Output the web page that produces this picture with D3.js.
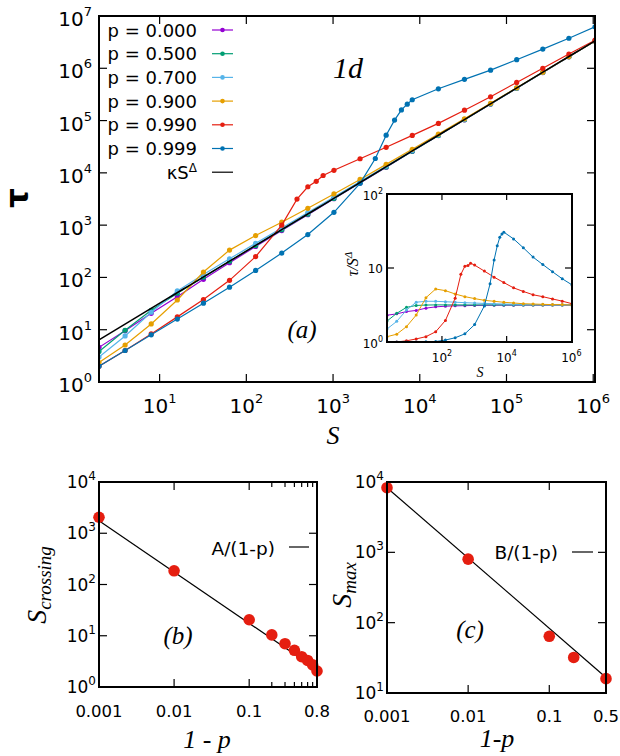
<!DOCTYPE html>
<html><head><meta charset="utf-8">
<script src="https://cdn.jsdelivr.net/npm/d3@7"></script>
<style>body{margin:0;background:#fff}svg{display:block}</style>
</head><body>
<svg id="chart" width="620" height="756"></svg>
<script>
// ---------------- DATA ----------------
const S_grid = [2,4,8,16,32,64,128,256,512,1024,2048,4096,8192,16384,32768,65536,131072,262144,524288,1048576];
const tau_p000 = [4.6,9.6,20.6,42.7,91.8,191,390,788,1587,3195,6410,12860,25800,51600,103500,207000,414000,828000,1657000,3314000];
const tau_p500 = [3.84,9.76,23.5,49.9,101,203,406,812,1623,3246,6492,12980,25970,51940,103900,207700,415500,831000,1662000,3324000];
const tau_p700 = [3.0,7.6,21.6,55.2,113.6,227,448,883,1741,3441,6799,13480,26710,53080,105500,210400,421000,836500,1673000,3337000];
const tau_p900 = [2.36,5.1,12.9,37,127,333,633,1140,2100,3950,7490,14540,28180,55200,107800,213600,423000,839000,1678000,3314000];
const S_p990 = [2,4,8,16,32,64,128,256,384,512,640,768,1024,2048,4096,8192,16384,32768,65536,131072,262144,524288,1048576];
const tau_p990 = [2.0,4.0,8.3,17.6,37.8,88,250,1000,3150,5420,6900,8900,11200,18600,30800,52000,88300,158000,285000,537000,1000000,1870000,3450000];
const S_p999 = [2,4,8,16,32,64,128,256,512,1024,2048,3072,4096,5120,6144,7168,8192,16384,32768,65536,131072,262144,524288,1048576];
const tau_p999 = [2.0,4.0,8.0,16.0,32.2,65,136,292,660,1760,6300,18800,52600,102000,160000,206000,250000,405000,615000,920000,1460000,2330000,3750000,6200000];
const seriesLabels = ["p = 0.000","p = 0.500","p = 0.700","p = 0.900","p = 0.990","p = 0.999"];
const seriesColors = ["#9400d3","#009e73","#56b4e9","#e69f00","#e51e10","#0072b2"];
const kappa = 3.2, Delta = 1.0;

const oneMinusP_b = [0.001,0.01,0.1,0.2,0.3,0.4,0.5,0.6,0.7,0.8];
const S_crossing = [2050,185,20.5,10.4,7.0,5.2,3.9,3.3,2.7,2.05];
const A_fit = 1.75;
const oneMinusP_c = [0.001,0.01,0.1,0.2,0.5];
const S_max = [8300,800,64,32,16];
const B_fit = 8.3;

const mainXTicks = [10,100,1e3,1e4,1e5,1e6];
const mainYTicks = [1,10,100,1e3,1e4,1e5,1e6,1e7];
const insetXTicks = [100,1e4,1e6];
const insetYTicks = [1,10,100];
const bXTickLabels = [[0.001,"0.001"],[0.01,"0.01"],[0.1,"0.1"],[0.8,"0.8"]];
const bXMinor = [0.2,0.3,0.4,0.5,0.6,0.7];
const bYTicks = [1,10,100,1e3,1e4];
const cXTickLabels = [[0.001,"0.001"],[0.01,"0.01"],[0.1,"0.1"],[0.5,"0.5"]];
const cYTicks = [10,100,1e3,1e4];

// ---------------- DRAW ----------------
const svg = d3.select("#chart");
const SANS = "DejaVu Sans, sans-serif";
const SERIF = "Liberation Serif, DejaVu Serif, serif";

const series = [
  {S:S_grid, t:tau_p000}, {S:S_grid, t:tau_p500}, {S:S_grid, t:tau_p700},
  {S:S_grid, t:tau_p900}, {S:S_p990, t:tau_p990}, {S:S_p999, t:tau_p999}
].map((d,i)=>({...d, color:seriesColors[i], label:seriesLabels[i],
  pts:d.S.map((s,j)=>({S:s, tau:d.t[j]}))}));

function powLabel(g, x, y, exp, size, supSize, anchor, supDy, base){
  const t = g.append("text").attr("x",x).attr("y",y).attr("text-anchor",anchor)
    .attr("font-family",SANS).attr("font-size",size).attr("fill","#000");
  t.append("tspan").text(base===undefined?"10":base);
  if(exp!==null) t.append("tspan").attr("dy",supDy).attr("font-size",supSize).text(exp);
  return t;
}
const expOf = v => String(Math.round(Math.log10(v)));

// ===== Main panel (a) =====
const xM = d3.scaleLog().domain([2,1048576]).range([99,595]);
const yM = d3.scaleLog().domain([1,1e7]).range([382,16]);
const gM = svg.append("g");
const mainClip = svg.append("clipPath").attr("id","mclip");
mainClip.append("rect").attr("x",99).attr("y",16).attr("width",496).attr("height",366);

const tick = (g,x1,y1,x2,y2)=>g.append("line").attr("x1",x1).attr("y1",y1).attr("x2",x2).attr("y2",y2).attr("stroke","#000").attr("stroke-width",1.2);
mainXTicks.forEach(v=>{ const x=xM(v);
  tick(gM,x,382,x,374); tick(gM,x,16,x,24);
  powLabel(gM,x,413,expOf(v),20,13,"middle",-10);
});
mainYTicks.forEach(v=>{ const y=yM(v);
  if(v>1 && v<1e7){ tick(gM,99,y,107,y); tick(gM,595,y,587,y); }
  powLabel(gM,92,y+10,expOf(v),20,13,"end",-10);
});

const lineM = d3.line().x(d=>xM(d.S)).y(d=>yM(d.tau));
const gData = gM.append("g").attr("clip-path","url(#mclip)");
series.forEach(s=>{
  gData.append("path").datum(s.pts).attr("d",lineM).attr("fill","none").attr("stroke",s.color).attr("stroke-width",1.2);
  gData.selectAll(null).data(s.pts).enter().append("circle")
    .attr("cx",d=>xM(d.S)).attr("cy",d=>yM(d.tau)).attr("r",2.6).attr("fill",s.color);
});
const fitPts = d3.range(0,101).map(i=>{const s=Math.pow(2,1+i*19/100); return {S:s, tau:kappa*Math.pow(s,Delta)};});
gData.append("path").datum(fitPts).attr("d",lineM).attr("fill","none").attr("stroke","#000").attr("stroke-width",1.5);

gM.append("rect").attr("x",99).attr("y",16).attr("width",496).attr("height",366)
  .attr("fill","none").attr("stroke","#000").attr("stroke-width",2);

// legend
const legY0 = 30, legStep = 23.7;
series.forEach((s,i)=>{
  const y = legY0 + i*legStep;
  gM.append("text").attr("x",197).attr("y",y+6.5).attr("text-anchor","end")
    .attr("font-family",SANS).attr("font-size",18).text(s.label);
  gM.append("line").attr("x1",212).attr("x2",233).attr("y1",y).attr("y2",y).attr("stroke",s.color).attr("stroke-width",1.2);
  gM.append("circle").attr("cx",222.5).attr("cy",y).attr("r",2.3).attr("fill",s.color);
});
{ const y = legY0 + 6*legStep;
  powLabel(gM,197,y+6.5,"Δ",18,12,"end",-7,"κS");
  gM.append("line").attr("x1",212).attr("x2",233).attr("y1",y).attr("y2",y).attr("stroke","#000").attr("stroke-width",1.2);
}

// annotations
gM.append("text").attr("x",333).attr("y",78).attr("font-family",SERIF).attr("font-style","italic").attr("font-size",30).text("1d");
gM.append("text").attr("x",302).attr("y",338).attr("text-anchor","middle").attr("font-family",SERIF).attr("font-style","italic").attr("font-size",25).text("(a)");
gM.append("text").attr("x",333).attr("y",444).attr("text-anchor","middle").attr("font-family",SERIF).attr("font-style","italic").attr("font-size",26).text("S");
gM.append("text").attr("transform","translate(28,198) rotate(-90)").attr("text-anchor","middle")
  .attr("font-family",SANS).attr("font-weight","bold").attr("font-size",31).text("τ");

// ===== Inset =====
const xI = d3.scaleLog().domain([2,1048576]).range([387,572]);
const yI = d3.scaleLog().domain([1,100]).range([342,194]);
const gI = svg.append("g");
gI.append("rect").attr("x",387).attr("y",194).attr("width",185).attr("height",148).attr("fill","#fff");
svg.append("clipPath").attr("id","iclip").append("rect").attr("x",387).attr("y",194).attr("width",185).attr("height",148);
const gID = gI.append("g").attr("clip-path","url(#iclip)");
const lineI = d3.line().x(d=>xI(d.S)).y(d=>yI(d.tau/Math.pow(d.S,Delta)));
series.forEach(s=>{
  gID.append("path").datum(s.pts).attr("d",lineI).attr("fill","none").attr("stroke",s.color).attr("stroke-width",1);
  gID.selectAll(null).data(s.pts).enter().append("circle")
    .attr("cx",d=>xI(d.S)).attr("cy",d=>yI(d.tau/Math.pow(d.S,Delta))).attr("r",1.5).attr("fill",s.color);
});
insetXTicks.forEach(v=>{const x=xI(v);
  if(v<1e6){ tick(gI,x,342,x,336); tick(gI,x,194,x,200); }
  powLabel(gI,x,362,expOf(v),12,8,"middle",-6);
});
insetYTicks.forEach(v=>{const y=yI(v);
  if(v===10){ tick(gI,387,y,394,y); tick(gI,572,y,565,y); }
  if(v===10) powLabel(gI,383,y+5,null,12,8,"end",-6,"10");
  else powLabel(gI,383,y+5.5,expOf(v),12,8,"end",-6);
});
gI.append("rect").attr("x",387).attr("y",194).attr("width",185).attr("height",148)
  .attr("fill","none").attr("stroke","#000").attr("stroke-width",2);
gI.append("text").attr("x",480).attr("y",377).attr("text-anchor","middle").attr("font-family",SERIF).attr("font-style","italic").attr("font-size",14).text("S");
{ const t = gI.append("text").attr("transform","translate(358,264) rotate(-90)").attr("text-anchor","middle")
    .attr("font-family",SERIF).attr("font-style","italic").attr("font-size",16);
  t.append("tspan").text("τ/S");
  t.append("tspan").attr("dy",-6).attr("font-size",11).text("Δ");
}

// ===== Panel (b) =====
const xB = d3.scaleLog().domain([0.001,0.8]).range([99,317]);
const yB = d3.scaleLog().domain([1,1e4]).range([687,482]);
const gB = svg.append("g");
bXTickLabels.forEach(([v,l])=>{const x=xB(v);
  if(v>0.001 && v<0.8){ tick(gB,x,687,x,679); tick(gB,x,482,x,490); }
  gB.append("text").attr("x",x).attr("y",717).attr("text-anchor","middle").attr("font-family",SANS).attr("font-size",16.5).text(l);
});
bXMinor.forEach(v=>{const x=xB(v); tick(gB,x,687,x,682); tick(gB,x,482,x,487);});
bYTicks.forEach(v=>{const y=yB(v);
  if(v>1 && v<1e4){ tick(gB,99,y,107,y); tick(gB,317,y,309,y); }
  powLabel(gB,96,y+6,expOf(v),17,12,"end",-8);
});
const fitB = [0.001,0.8].map(u=>({u, s:A_fit/u}));
gB.append("path").datum(fitB).attr("d",d3.line().x(d=>xB(d.u)).y(d=>yB(d.s))).attr("fill","none").attr("stroke","#000").attr("stroke-width",1.2);
gB.selectAll(null).data(oneMinusP_b.map((u,i)=>({u,s:S_crossing[i]}))).enter().append("circle")
  .attr("cx",d=>xB(d.u)).attr("cy",d=>yB(d.s)).attr("r",5.8).attr("fill","#e51e10");
gB.append("rect").attr("x",99).attr("y",482).attr("width",218).attr("height",205).attr("fill","none").attr("stroke","#000").attr("stroke-width",2);
gB.append("text").attr("x",275).attr("y",555).attr("text-anchor","end").attr("font-family",SANS).attr("font-size",18.5).text("A/(1-p)");
gB.append("line").attr("x1",289).attr("x2",309).attr("y1",547).attr("y2",547).attr("stroke","#000").attr("stroke-width",1.2);
gB.append("text").attr("x",178).attr("y",644).attr("text-anchor","middle").attr("font-family",SERIF).attr("font-style","italic").attr("font-size",25).text("(b)");
gB.append("text").attr("x",207).attr("y",748).attr("text-anchor","middle").attr("font-family",SERIF).attr("font-style","italic").attr("font-size",26).text("1 - p");
{ const t = gB.append("text").attr("transform","translate(46,585) rotate(-90)").attr("text-anchor","middle")
    .attr("font-family",SERIF).attr("font-style","italic").attr("font-size",28);
  t.append("tspan").text("S");
  t.append("tspan").attr("dy",5).attr("font-size",19).text("crossing");
}

// ===== Panel (c) =====
const xC = d3.scaleLog().domain([0.001,0.5]).range([387,606]);
const yC = d3.scaleLog().domain([10,1e4]).range([693,482]);
const gC = svg.append("g");
cXTickLabels.forEach(([v,l])=>{const x=xC(v);
  if(v>0.001 && v<0.5){ tick(gC,x,693,x,685); tick(gC,x,482,x,490); }
  gC.append("text").attr("x",x).attr("y",722).attr("text-anchor","middle").attr("font-family",SANS).attr("font-size",16.5).text(l);
});
cYTicks.forEach(v=>{const y=yC(v);
  if(v>10 && v<1e4){ tick(gC,387,y,395,y); tick(gC,606,y,598,y); }
  powLabel(gC,384,y+6,expOf(v),17,12,"end",-8);
});
const fitC = [0.001,0.5].map(u=>({u, s:B_fit/u}));
gC.append("path").datum(fitC).attr("d",d3.line().x(d=>xC(d.u)).y(d=>yC(d.s))).attr("fill","none").attr("stroke","#000").attr("stroke-width",1.2);
gC.selectAll(null).data(oneMinusP_c.map((u,i)=>({u,s:S_max[i]}))).enter().append("circle")
  .attr("cx",d=>xC(d.u)).attr("cy",d=>yC(d.s)).attr("r",5.8).attr("fill","#e51e10");
gC.append("rect").attr("x",387).attr("y",482).attr("width",219).attr("height",211).attr("fill","none").attr("stroke","#000").attr("stroke-width",2);
gC.append("text").attr("x",558).attr("y",559).attr("text-anchor","end").attr("font-family",SANS).attr("font-size",18.5).text("B/(1-p)");
gC.append("line").attr("x1",572).attr("x2",593).attr("y1",552).attr("y2",552).attr("stroke","#000").attr("stroke-width",1.2);
gC.append("text").attr("x",470).attr("y",638).attr("text-anchor","middle").attr("font-family",SERIF).attr("font-style","italic").attr("font-size",25).text("(c)");
gC.append("text").attr("x",497).attr("y",747).attr("text-anchor","middle").attr("font-family",SERIF).attr("font-style","italic").attr("font-size",26).text("1-p");
{ const t = gC.append("text").attr("transform","translate(351,585) rotate(-90)").attr("text-anchor","middle")
    .attr("font-family",SERIF).attr("font-style","italic").attr("font-size",28);
  t.append("tspan").text("S");
  t.append("tspan").attr("dy",5).attr("font-size",19).text("max");
}
</script>
</body></html>
